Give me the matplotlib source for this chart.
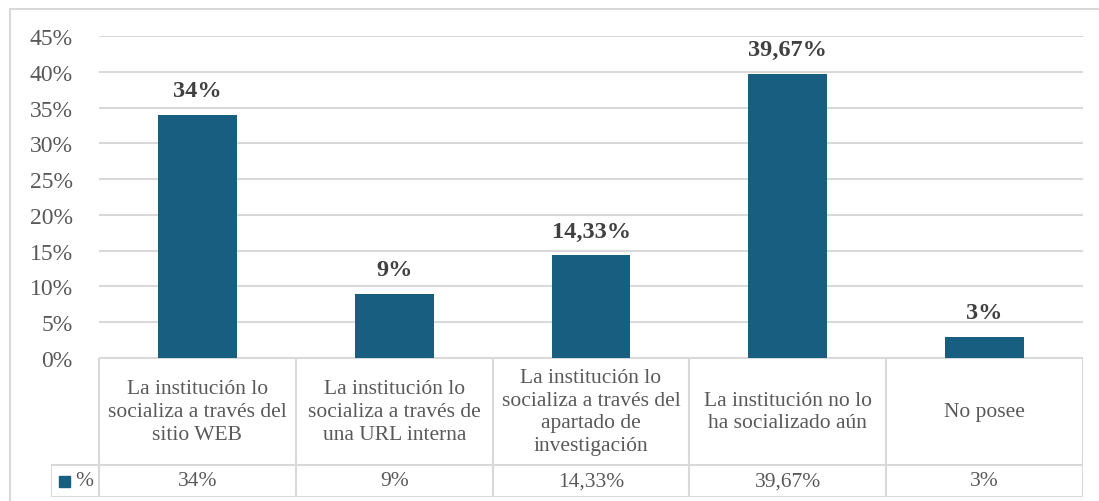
import matplotlib
matplotlib.use("Agg")
import matplotlib.pyplot as plt
from matplotlib.patches import Rectangle
from matplotlib.lines import Line2D

categories = [
    "La institución lo\nsocializa a través del\nsitio WEB",
    "La institución lo\nsocializa a través de\nuna URL interna",
    "La institución lo\nsocializa a través del\napartado de\ninvestigación",
    "La institución no lo\nha socializado aún",
    "No posee",
]
values = [0.34, 0.09, 0.1433, 0.3967, 0.03]
value_labels = ["34%", "9%", "14,33%", "39,67%", "3%"]
yticks = [0, 0.05, 0.10, 0.15, 0.20, 0.25, 0.30, 0.35, 0.40, 0.45]
ytick_labels = ["0%", "5%", "10%", "15%", "20%", "25%", "30%", "35%", "40%", "45%"]
series_name = "%"

W, H = 1099, 502
BAR = "#175e81"
GRID = "#d9d9d9"
TXT = "#595959"
LBL = "#404040"
plt.rcParams['font.family'] = ['Liberation Serif', 'DejaVu Serif']

fig = plt.figure(figsize=(W / 100, H / 100), dpi=100)

# outer chart border
fig.patches.append(Rectangle((10 / W, -0.05), 1.2, 1 - 10 / H + 0.05, transform=fig.transFigure,
                             fill=False, edgecolor=GRID, linewidth=1.5, zorder=0))

def fx(px):
    return px / W

def fy(py):
    return 1 - py / H

left, right = 99, 1083
top, bottom = 37, 359
ax = fig.add_axes([fx(left), fy(bottom), fx(right - left), (bottom - top) / H])
x = list(range(len(values)))
ax.bar([i + 0.5 for i in x], values, width=0.4, color=BAR, zorder=3)
ax.set_xlim(0, len(values))
ax.set_ylim(0, 0.45)
ax.set_yticks(yticks)
ax.set_yticklabels(ytick_labels, fontsize=17, color=TXT)
ax.tick_params(axis='y', length=0, pad=19)
ax.set_xticks([])
ax.grid(axis='y', color=GRID, linewidth=1.5, zorder=0)
for s in ax.spines.values():
    s.set_visible(False)
for i, (v, lab) in enumerate(zip(values, value_labels)):
    ax.annotate(lab, (i + 0.5, v), xytext=(0, 17.5), textcoords='offset points',
                ha='center', va='center', fontsize=17.5, fontweight='bold', color=LBL)

# data table
tleft, tbottom = 51, 498
cw = (right - left) / len(values)
lx = -(left - tleft) / cw
tax = fig.add_axes([fx(tleft), fy(tbottom), fx(right - tleft), (tbottom - bottom) / H])
tax.set_xlim(lx, len(values))
tax.set_ylim(0, tbottom - bottom)
tax.axis('off')
hrow = tbottom - 466  # value row height
ttop = tbottom - bottom
lw = 1.5
for b in range(len(values) + 1):
    tax.add_line(Line2D([b, b], [0, ttop], color=GRID, lw=lw))
tax.add_line(Line2D([lx, lx], [0, hrow], color=GRID, lw=lw))
tax.add_line(Line2D([0, len(values)], [ttop, ttop], color=GRID, lw=lw))
tax.add_line(Line2D([lx, len(values)], [hrow, hrow], color=GRID, lw=lw))
tax.add_line(Line2D([lx, len(values)], [0, 0], color=GRID, lw=lw))
for i, (c, lab) in enumerate(zip(categories, value_labels)):
    tax.text(i + 0.5, (hrow + ttop) / 2, c, ha='center', va='center', fontsize=15.5,
             color=TXT, linespacing=1.28)
    tax.text(i + 0.5, hrow / 2, lab, ha='center', va='center', fontsize=15.5, color=TXT)
# legend key
sq = 11 / cw
tax.add_patch(Rectangle((lx + 8 / cw, hrow / 2 - 5.5), sq, 11, color=BAR))
tax.text(lx + 24 / cw, hrow / 2, series_name, ha='left', va='center', fontsize=15.5, color=TXT)

fig.savefig("out.png", dpi=100)
